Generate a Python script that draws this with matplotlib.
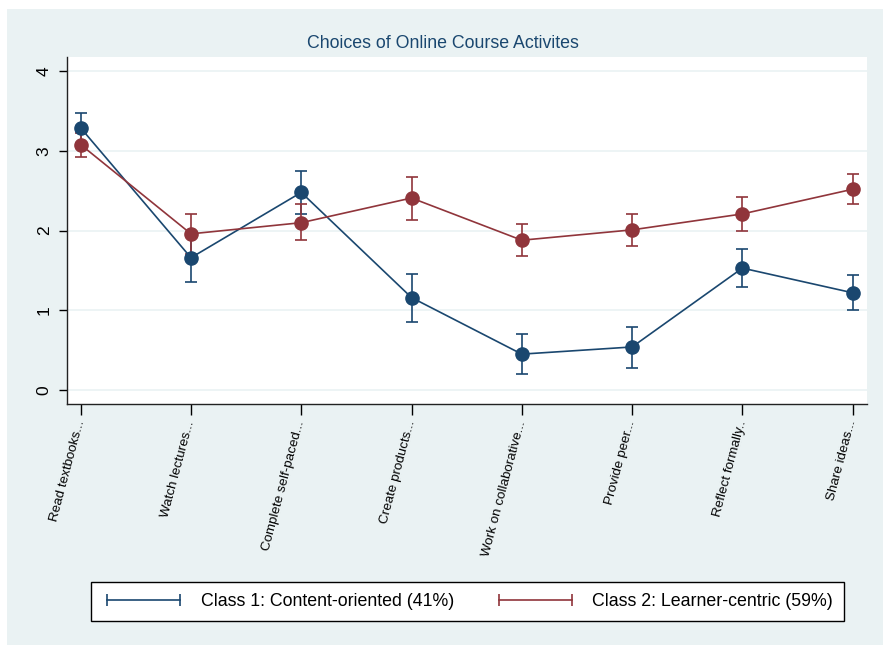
import matplotlib
matplotlib.use('Agg')
import matplotlib.pyplot as plt
from matplotlib.patches import Rectangle
from matplotlib.lines import Line2D

plt.rcParams['font.family'] = ['Liberation Sans', 'DejaVu Sans']

# data
activities = ['Read textbooks...', 'Watch lectures...', 'Complete self-paced...',
              'Create products...', 'Work on collaborative...', 'Provide peer...',
              'Reflect formally..', 'Share ideas...']
class1_mean = [3.29, 1.66, 2.48, 1.16, 0.45, 0.54, 1.53, 1.22]
class1_lo   = [3.10, 1.35, 2.21, 0.85, 0.20, 0.28, 1.29, 1.00]
class1_hi   = [3.48, 1.97, 2.75, 1.46, 0.70, 0.79, 1.77, 1.44]
class2_mean = [3.08, 1.96, 2.10, 2.41, 1.88, 2.01, 2.21, 2.52]
class2_lo   = [2.93, 1.71, 1.88, 2.14, 1.68, 1.81, 2.00, 2.33]
class2_hi   = [3.23, 2.21, 2.33, 2.67, 2.08, 2.21, 2.42, 2.71]
yticks = [0, 1, 2, 3, 4]
labels = ['Class 1: Content-oriented (41%)', 'Class 2: Learner-centric (59%)']

navy = '#1a476f'
maroon = '#90353b'
light = '#eaf2f3'

W, H = 884, 647
fig = plt.figure(figsize=(W/100, H/100), dpi=100, facecolor='white')
# Stata style graph region
fig.patches.append(Rectangle((7/W, 2/H), (883-7)/W, (645-9)/H,
                             transform=fig.transFigure, facecolor=light,
                             edgecolor='none', zorder=-10))

ax = fig.add_axes([67/W, 1-404/H, (867-67)/W, (404-57)/H])
ax.set_facecolor('white')

x = list(range(1, len(activities)+1))
for mean, lo, hi, col in [(class1_mean, class1_lo, class1_hi, navy),
                          (class2_mean, class2_lo, class2_hi, maroon)]:
    err = [[m-l for m, l in zip(mean, lo)], [h-m for m, h in zip(mean, hi)]]
    ax.errorbar(x, mean, yerr=err, color=col, lw=1.2, marker='o', ms=9.5,
                capsize=4.5, capthick=1.2, elinewidth=1.2, zorder=3)

ax.set_xlim(0.876, 8.13)
ax.set_ylim(-0.176, 4.18)
ax.set_yticks(yticks)
ax.set_yticklabels([str(t) for t in yticks], rotation=90, va='center', fontsize=12.5)
ax.set_xticks(x)
ax.set_xticklabels(activities, rotation=75, ha='right', va='center',
                   rotation_mode='anchor', fontsize=9.6)
ax.tick_params(axis='y', length=6, width=1, pad=5)
ax.tick_params(axis='x', length=8, width=1, pad=4)
ax.grid(axis='y', color=light, lw=1.2, zorder=0)
ax.set_axisbelow(True)
for s in ['top', 'right']:
    ax.spines[s].set_visible(False)
for s in ['left', 'bottom']:
    ax.spines[s].set_color('#222222')
    ax.spines[s].set_linewidth(1)

fig.text(443/W, 1-44/H, 'Choices of Online Course Activites', ha='center',
         va='center', fontsize=12.8, color=navy)

handles = [Line2D([], [], color=navy, lw=1.2, marker='|', ms=9, mew=1.2),
           Line2D([], [], color=maroon, lw=1.2, marker='|', ms=9, mew=1.2)]
leg = fig.legend(handles, labels, loc='center', ncol=2, numpoints=2,
                 bbox_to_anchor=(467.5/W, 1-601.5/H), fontsize=12.8,
                 handlelength=4.7, handletextpad=0.85, columnspacing=2.25,
                 borderpad=0.6, fancybox=False, edgecolor='black', framealpha=1)
leg.get_frame().set_linewidth(1)

fig.savefig('out.png', dpi=100, facecolor='white')
